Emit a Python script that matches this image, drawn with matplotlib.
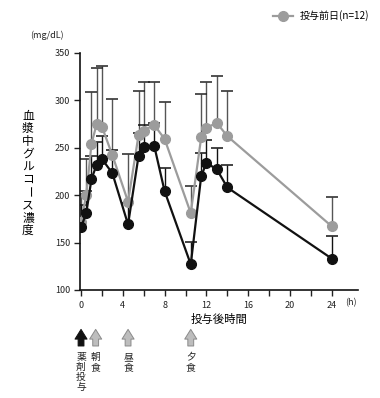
"""Plasma glucose after dosing vs. the day before dosing."""

import matplotlib
matplotlib.use('Agg')
import matplotlib.pyplot as plt
from matplotlib.lines import Line2D
import numpy as np

plt.rcParams['font.family'] = ['Noto Sans CJK JP', 'DejaVu Sans']

# Time after dosing (h)
hours = [0, 0.5, 1, 1.5, 2, 3, 4.5, 5.5, 6, 7, 8, 10.5, 11.5, 12, 13, 14, 24]

# Dosing day (black) mean and top of error bar
dose_mean = [166, 181, 217, 232, 238, 223, 169, 241, 251, 252, 204, 127, 220, 234, 227, 208, 133]
dose_top = [190, 204, 241, 256, 262, 247, 192, 265, 274, 276, 228, 151, 244, 258, 250, 232, 157]

# Day before dosing (gray) mean and top of error bar
pre_mean = [172, 200, 254, 275, 272, 242, 193, 263, 268, 274, 259, 181, 261, 271, 276, 262, 167]
pre_top = [201, 238, 309, 334, 336, 301, 243, 310, 319, 319, 298, 210, 306, 319, 325, 310, 198]

# Meal / dosing markers under the axis
event_hours = [0, 1.4, 4.5, 10.5]
event_labels = ['薬剤投与', '朝食', '昼食', '夕食']
event_colors = ['#111111', '#bdbdbd', '#bdbdbd', '#bdbdbd']

y_ticks = [100, 150, 200, 250, 300, 350]
x_ticks = [0, 4, 8, 12, 16, 20, 24]
y_label = '血漿中グルコース濃度'

gray = '#9c9c9c'
black = '#111111'

fig = plt.figure(figsize=(3.8, 3.98), dpi=100)
ax = fig.add_axes([0.2105, 0.2714, 0.7315, 0.5962])

# upper error bars only
ax.vlines(hours, pre_mean, pre_top, color='#555555', lw=1.0, zorder=1)
ax.plot(hours, pre_top, ls='none', marker='_', ms=8, mew=1.1, color='#222222', zorder=1)
ax.vlines(hours, dose_mean, dose_top, color=black, lw=1.0, zorder=1)
ax.plot(hours, dose_top, ls='none', marker='_', ms=8, mew=1.1, color=black, zorder=1)

ax.plot(hours, pre_mean, color=gray, lw=1.6, marker='o', ms=7, mfc=gray, mec=gray, zorder=3)
ax.plot(hours, dose_mean, color=black, lw=1.6, marker='o', ms=7, mfc=black, mec=black, zorder=4)

ax.set_xlim(-0.1, 26.5)
ax.set_ylim(100, 350)
ax.set_yticks(y_ticks)
ax.set_xticks(x_ticks)
ax.set_xticks(np.arange(0, 26, 2), minor=True)
ax.tick_params(axis='both', which='both', direction='out', length=4, width=1,
               labelsize=6.5, pad=3, colors='#222222')
ax.tick_params(axis='x', which='major', pad=4)
for side in ['top', 'right']:
    ax.spines[side].set_visible(False)
for side in ['left', 'bottom']:
    ax.spines[side].set_linewidth(1.2)
    ax.spines[side].set_color('#111111')

tr = ax.get_xaxis_transform()
ax.text(25.8, -0.055, '(h)', transform=tr, fontsize=6.5, ha='center', va='center',
        color='#222222')
ax.set_xlabel('投与後時間', fontsize=8.2, labelpad=3)

fig.text(47 / 380, 1 - 35 / 398, '(mg/dL)', fontsize=6.5, ha='center', va='center',
         color='#222222')

# vertical (tategaki) y label, one character per line; the long mark turns upright
for i, ch in enumerate(y_label):
    fig.text(28 / 380, 1 - (116 + i * 12.7) / 398, ch, fontsize=8.5,
             ha='center', va='center', rotation=-90 if ch == 'ー' else 0)

# arrows and labels under the axis
for t, lab, c in zip(event_hours, event_labels, event_colors):
    ec = '#111111' if c == '#111111' else '#8a8a8a'
    ax.annotate('', xy=(t, -0.166), xytext=(t, -0.236), xycoords=tr, textcoords=tr,
                arrowprops=dict(arrowstyle='simple,head_width=0.62,head_length=0.5,tail_width=0.3',
                                mutation_scale=14, shrinkA=0, shrinkB=0,
                                fc=c, ec=ec, lw=0.7))
    ax.text(t, -0.262, '\n'.join(lab), transform=tr, fontsize=7, ha='center', va='top',
            linespacing=0.98, color='#222222')

handle = Line2D([], [], color=gray, lw=1.6, marker='o', ms=7, mfc=gray, mec=gray)
fig.legend(handles=[handle], labels=['投与前日(n=12)'], loc='center left',
           bbox_to_anchor=(268 / 380, 1 - 16 / 398), frameon=False, fontsize=7.2,
           handlelength=2.0, handletextpad=0.7, borderpad=0)

fig.savefig('out.png', dpi=100)
